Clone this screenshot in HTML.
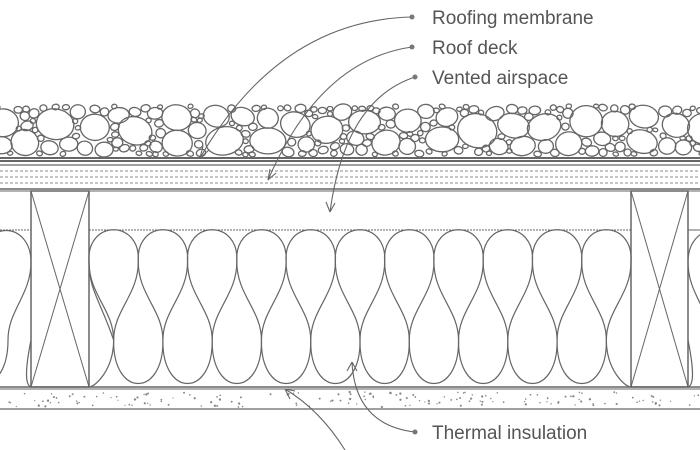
<!DOCTYPE html>
<html><head><meta charset="utf-8"><style>
html,body{margin:0;padding:0;background:#fff;}
svg{display:block}
text{font-family:"Liberation Sans Narrow","Liberation Sans",sans-serif;fill:#555;font-size:19px}
</style></head><body>
<svg id="s" width="700" height="450" viewBox="0 0 700 450" xmlns="http://www.w3.org/2000/svg">
<g id="gravel" fill="none" stroke="#666" stroke-width="1.3"></g>
<g stroke="#666" fill="none">
<line x1="0" y1="158" x2="700" y2="158" stroke-width="2"/>
<line x1="0" y1="161" x2="700" y2="161" stroke-width="2"/>
<line x1="0" y1="165" x2="700" y2="165" stroke-width="1.2"/>
<line x1="0" y1="171" x2="700" y2="171" stroke-width="0.8" stroke-dasharray="3 2"/>
<line x1="0" y1="177" x2="700" y2="177" stroke-width="0.8" stroke-dasharray="3 2"/>
<line x1="0" y1="183" x2="700" y2="183" stroke-width="0.8" stroke-dasharray="3 2"/>
<line x1="0" y1="189" x2="700" y2="189" stroke-width="1.5"/>
<line x1="0" y1="191" x2="700" y2="191" stroke-width="1"/>
<rect x="31" y="191" width="58" height="196" stroke-width="1.5"/>
<line x1="31" y1="191" x2="89" y2="387"/><line x1="89" y1="191" x2="31" y2="387"/>
<rect x="631" y="191" width="57" height="196" stroke-width="1.5"/>
<line x1="631" y1="191" x2="688" y2="387"/><line x1="688" y1="191" x2="631" y2="387"/>
<line x1="0" y1="230" x2="31" y2="230" stroke-dasharray="2 1"/><line x1="89" y1="230" x2="631" y2="230" stroke-dasharray="2 1"/><line x1="688" y1="230" x2="700" y2="230"/>
<line x1="0" y1="387" x2="700" y2="387" stroke-width="1.5"/>
<line x1="0" y1="389" x2="700" y2="389" stroke-width="1"/>
<line x1="0" y1="409" x2="700" y2="409" stroke-width="1.3"/>
</g>
<svg x="0" y="0" width="700" height="450"><g id="ins" fill="none" stroke="#666" stroke-width="1.2"></g></svg>
<g id="dots" fill="#888"></g>
<g fill="none" stroke="#666" stroke-width="1.1">
<path d="M412 17 Q280 20 200 158"/><path d="M200 158 l3 -12 M200 158 l9 -8"/>
<path d="M412 47 Q320 60 268 180"/><path d="M268 180 l2 -11 M268 180 l8 -7"/>
<path d="M415 77 Q345 100 330 212"/><path d="M330 212 l-4 -10 M330 212 l5 -9"/>
<path d="M415 432 Q355 425 352 362"/><path d="M352 362 l-5 9 M352 362 l5 9"/>
<path d="M345 450 Q320 410 285 389"/><path d="M285 389 l5 10 M285 389 l10 2"/>
</g>
<g fill="#777"><circle cx="412" cy="17" r="2.5"/><circle cx="412" cy="47" r="2.5"/><circle cx="415" cy="77" r="2.5"/><circle cx="415" cy="432" r="2.5"/></g>
<text x="432" y="24">Roofing membrane</text>
<text x="432" y="54">Roof deck</text>
<text x="432" y="84">Vented airspace</text>
<text x="432" y="439">Thermal insulation</text>
</svg>
<script>
var seed=11;function r(){seed=(seed*16807)%2147483647;return (seed-1)/2147483646;}
var NS="http://www.w3.org/2000/svg";
var g=document.getElementById('gravel');
var occ=[];
function tryPlace(minR,maxR,tries){
for(var i=0;i<tries;i++){
 var rx=minR+r()*(maxR-minR), ry=rx*(0.72+r()*0.25);
 var x=-5+r()*710, y=104+ry+r()*(53-2*ry);
 var ok=true;for(var j=0;j<occ.length;j++){var o=occ[j];var dx=(x-o[0])/((rx+o[2])),dy=(y-o[1])/((ry+o[3]));if(dx*dx+dy*dy<0.93*0.93){ok=false;break;}}
 if(!ok)continue;occ.push([x,y,rx,ry]);
 var e=document.createElementNS(NS,'ellipse');e.setAttribute('cx',x.toFixed(1));e.setAttribute('cy',y.toFixed(1));e.setAttribute('rx',rx.toFixed(1));e.setAttribute('ry',ry.toFixed(1));e.setAttribute('transform','rotate('+((r()-0.5)*40).toFixed(0)+' '+x.toFixed(1)+' '+y.toFixed(1)+')');g.appendChild(e);
}}
tryPlace(13,20,600);tryPlace(8,13,1500);tryPlace(4,8,3000);tryPlace(2.5,4,3000);
var ins=document.getElementById('ins');
function P(d){var p=document.createElementNS(NS,'path');p.setAttribute('d',d);ins.appendChild(p);}
var w=542/11, yt=262, yb=340;
for(var k=0;k<11;k++){var a=89+k*w,b=a+w;
 P("M"+a+" "+yt+" C"+(a-3)+" 219 "+(b+3)+" 219 "+b+" "+yt);}
for(var k=0;k<=11;k++){var b=89+k*w;
 if(k<11)P("M"+b+" "+yt+" C"+b+" 295 "+(b+w/2)+" 310 "+(b+w/2)+" "+yb);
 if(k>0)P("M"+b+" "+yt+" C"+b+" 295 "+(b-w/2)+" 310 "+(b-w/2)+" "+yb);
}
for(var k=0;k<10;k++){var c=89+k*w+w/2;
 P("M"+c+" "+yb+" C"+(c-1)+" 398 "+(c+w+1)+" 398 "+(c+w)+" "+yb);}
// ends
P("M89 "+yt+" C89 290 100 300 "+(89+w/2)+" "+yb);
P("M"+(89+w/2)+" "+yb+" C"+(89+w/2)+" 370 95 387 89 387");
P("M"+(631-w/2)+" "+yb+" C"+(631-w/2)+" 370 625 387 631 387");
P("M31 "+yt+" C31 220 -20 220 -15 "+yt);P("M31 "+yt+" C31 295 8 310 8 "+yb+" C8 398 -40 398 -40 "+yb);
P("M688 "+yt+" C688 220 740 220 735 "+yt);P("M688 "+yt+" C688 295 711 310 711 "+yb+" C711 398 740 398 740 "+yb);
P("M31 340 C25 370 25 385 31 387");P("M688 340 C694 370 694 385 688 387");
var dg=document.getElementById('dots');
for(var i=0;i<160;i++){var c=document.createElementNS(NS,'circle');c.setAttribute('cx',r()*700);c.setAttribute('cy',392+r()*15);c.setAttribute('r',0.6+r()*0.6);dg.appendChild(c);}
</script>
</body></html>
